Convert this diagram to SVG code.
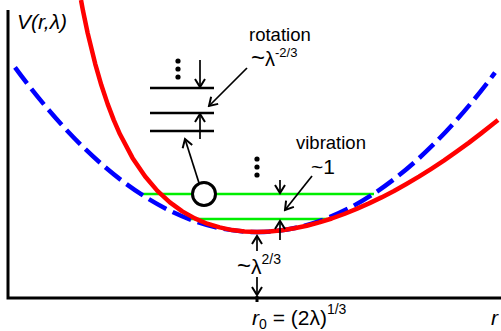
<svg xmlns="http://www.w3.org/2000/svg" width="501" height="331" viewBox="0 0 501 331">
<style>
text{font-family:"Liberation Sans",Arial,sans-serif;fill:#000}
.ax{stroke:#000;stroke-width:3;fill:none}
.lvl{stroke:#000;stroke-width:2.6;fill:none}
.arr{stroke:#000;stroke-width:1.7;fill:none;marker-end:url(#ah)}
.it{font-style:italic}
</style>
<defs>
<marker id="ah" viewBox="-10 -6 12 12" refX="0" refY="0" markerWidth="12" markerHeight="12" markerUnits="userSpaceOnUse" orient="auto">
<path d="M-8,-5 L0,0 L-8,5" fill="none" stroke="#000" stroke-width="2"/>
</marker>
</defs>
<rect width="501" height="331" fill="#fff"/>
<g id="axes">
<path class="ax" d="M8,10 V299.5 M6.5,298 H501"/>
<path d="M257,296 V302" stroke="#000" stroke-width="3"/>
</g>
<g id="vib-levels">
<path d="M139,194 H374 M187,219 H327" stroke="#00ee00" stroke-width="2.6" fill="none"/>
</g>
<g id="harmonic">
<path d="M15,67.3 Q255,394 495,72.7" fill="none" stroke="#0000ff" stroke-width="4.5" stroke-dasharray="20 7"/>
</g>
<g id="potential">
<polyline fill="none" stroke="#ff0000" stroke-width="4.5" stroke-linejoin="round" points="81,0 83,10.8 87.7,33.2 95.2,63.8 101.4,85.3 107.6,103.9 113.8,120.1 120,134.3 132.5,157.9 145,176.3 157.4,190.9 169.9,202.4 182.3,211.4 194.8,218.4 207.2,223.7 219.7,227.4 232.1,230.1 244.6,231.6 257,232 269.5,231.6 281.9,230.3 294.4,228.3 306.8,225.7 319.3,222.4 331.7,218.5 344.2,214 356.6,208.9 369,203.4 381.5,197.4 394,191 406.4,184 418.9,176.6 431.3,168.8 443.8,160.6 456.2,151.9 468.7,142.9 481.1,133.4 493.6,123.6 498,120"/>
</g>
<g id="rot-levels">
<path class="lvl" d="M150,88 H214 M150,113 H214 M150,131 H214"/>
<circle cx="178" cy="61" r="2.6"/>
<circle cx="178" cy="69" r="2.6"/>
<circle cx="178" cy="77" r="2.6"/>
</g>
<g id="molecule">
<circle cx="204" cy="194" r="11.5" fill="#fff" stroke="#000" stroke-width="3"/>
</g>
<g id="vib-dots">
<circle cx="257" cy="159" r="2.6"/>
<circle cx="257" cy="167" r="2.6"/>
<circle cx="257" cy="175" r="2.6"/>
</g>
<g id="connectors">
<line class="arr" x1="200" y1="60" x2="200" y2="87"/>
<line class="arr" x1="200" y1="139" x2="200" y2="114"/>
<line class="arr" x1="247" y1="68" x2="209" y2="106"/>
<line class="arr" x1="199" y1="183" x2="185" y2="139"/>
<line class="arr" x1="280" y1="180" x2="280" y2="193"/>
<line class="arr" x1="280" y1="240" x2="280" y2="221"/>
<line class="arr" x1="312" y1="176" x2="285" y2="210"/>
<line class="arr" x1="257" y1="251" x2="257" y2="236"/>
<line class="arr" x1="257" y1="277" x2="257" y2="295"/>
</g>
<g id="labels">
<text x="17" y="29" font-size="21" class="it">V(r,λ)</text>
<text x="249" y="41" font-size="18.5">rotation</text>
<text x="251" y="66" font-size="20"><tspan font-size="24">~</tspan>λ<tspan font-size="13" dy="-9">-2/3</tspan></text>
<text x="296" y="149" font-size="18.5">vibration</text>
<text x="311" y="174" font-size="21">~1</text>
<text x="237" y="274" font-size="21"><tspan font-size="24">~</tspan>λ<tspan font-size="14" dy="-10">2/3</tspan></text>
<text x="252" y="325" font-size="21"><tspan class="it">r</tspan><tspan font-size="14" dy="4">0</tspan><tspan dy="-4"> = (2λ)</tspan><tspan font-size="14" dy="-11">1/3</tspan></text>
<text x="491" y="325" font-size="21" class="it">r</text>
</g>
</svg>
